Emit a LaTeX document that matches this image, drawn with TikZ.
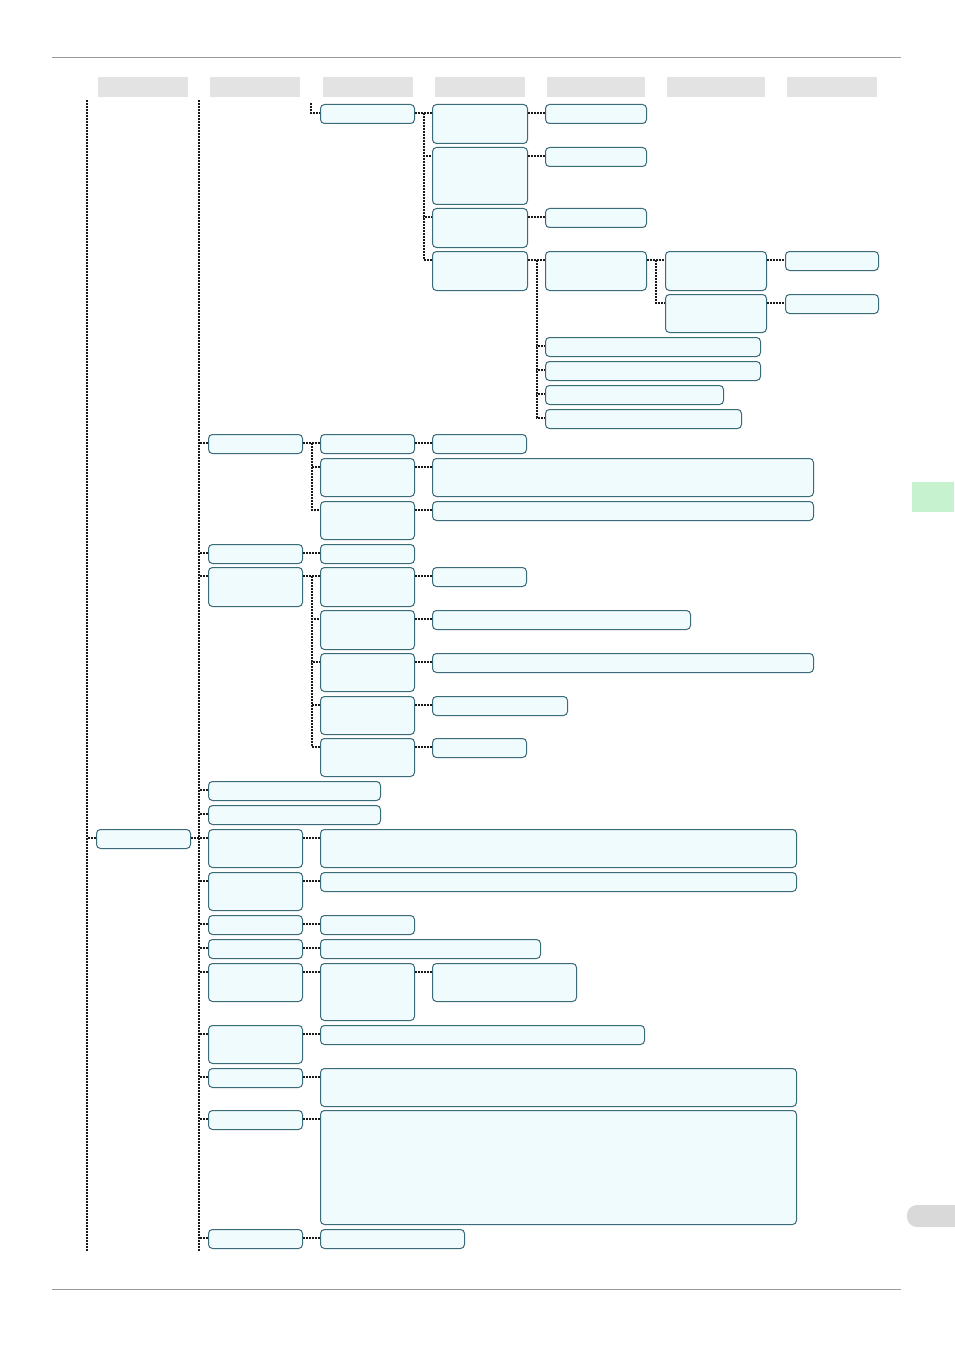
\documentclass[tikz,border=0pt]{standalone}
\usepackage{tikz}
\usetikzlibrary{positioning}
\definecolor{boxfill}{HTML}{F0FBFE}
\definecolor{boxline}{HTML}{3A6B78}
\definecolor{headgray}{HTML}{E3E3E3}
\definecolor{tabgreen}{HTML}{C6F2D0}
\definecolor{tabgray}{HTML}{D9D9D9}
\definecolor{rulegray}{HTML}{9A9A9A}

\begin{document}
\begin{tikzpicture}[
  x=1bp, y=-1bp,
  box/.style={draw=boxline, fill=boxfill, line width=1bp, rounded corners=4bp,
              anchor=north west, inner sep=0pt, minimum width=94bp, minimum height=19bp},
  tall/.style={minimum height=#1 bp},
  wide/.style={minimum width=#1 bp},
  head/.style={fill=headgray, anchor=north west, inner sep=0pt, minimum height=20bp},
  link/.style={draw=black!90, line width=2bp, dash pattern=on 2bp off 1bp}
]
\useasboundingbox (0,0) rectangle (954,1347);

% page rules and tabs
\draw[rulegray, line width=1bp] (52,57.5) -- (901,57.5);
\draw[rulegray, line width=1bp] (52,1289.5) -- (901,1289.5);
\fill[tabgreen] (912,482) rectangle (954,512);
\fill[tabgray, rounded corners=10bp] (907,1205) rectangle (975,1227);

% column heads
\foreach \x/\w in {98/90, 210/90, 323/90, 435/90, 547/98, 667/98, 787/90}
  \node[head, minimum width=\w bp] (hd\x) at (\x,77) {};

% upper branch
\node[box] (a1) at (320,104) {};
\node[box, wide=95, tall=39] (b1) at (432,104) {};
\node[box, wide=95, tall=57] (b2) at (432,147) {};
\node[box, wide=95, tall=39] (b3) at (432,208) {};
\node[box, wide=95, tall=39] (b4) at (432,251) {};
\node[box, wide=101] (c1) at (545,104) {};
\node[box, wide=101] (c2) at (545,147) {};
\node[box, wide=101] (c3) at (545,208) {};
\node[box, wide=101, tall=39] (c4) at (545,251) {};
\node[box, wide=215] (d1) at (545,337) {};
\node[box, wide=215] (d2) at (545,361) {};
\node[box, wide=178] (d3) at (545,385) {};
\node[box, wide=196] (d4) at (545,409) {};
\node[box, wide=101, tall=39] (e1) at (665,251) {};
\node[box, wide=101, tall=38] (e2) at (665,294) {};
\node[box, wide=93] (f1) at (785,251) {};
\node[box, wide=93] (f2) at (785,294) {};

\coordinate (a0) at (311,103);
\draw[link] (a0) |- ([yshift=-9bp]a1.north west);
\foreach \n in {b1,b2,b3,b4}
  \draw[link] ([yshift=-9bp]a1.north east) -- ++(9,0) |- ([yshift=-9bp]\n.north west);
\foreach \p/\n in {b1/c1, b2/c2, b3/c3}
  \draw[link] ([yshift=-9bp]\p.north east) -- ([yshift=-9bp]\n.north west);
\foreach \n in {c4,d1,d2,d3,d4}
  \draw[link] ([yshift=-9bp]b4.north east) -- ++(9,0) |- ([yshift=-9bp]\n.north west);
\foreach \n in {e1,e2}
  \draw[link] ([yshift=-9bp]c4.north east) -- ++(9,0) |- ([yshift=-9bp]\n.north west);
\draw[link] ([yshift=-9bp]e1.north east) -- ([yshift=-9bp]f1.north west);
\draw[link] ([yshift=-9bp]e2.north east) -- ([yshift=-9bp]f2.north west);

% middle branch
\node[box] (g1) at (208,434) {};
\node[box] (g2) at (208,544) {};
\node[box, tall=39] (g3) at (208,567) {};
\node[box, wide=172] (g4) at (208,781) {};
\node[box, wide=172] (g5) at (208,805) {};

\node[box] (h1) at (320,434) {};
\node[box, tall=38] (h2) at (320,458) {};
\node[box, tall=38] (h3) at (320,501) {};
\node[box] (h4) at (320,544) {};
\node[box, tall=39] (h5) at (320,567) {};
\node[box, tall=39] (h6) at (320,610) {};
\node[box, tall=38] (h7) at (320,653) {};
\node[box, tall=38] (h8) at (320,696) {};
\node[box, tall=38] (h9) at (320,738) {};

\node[box] (i1) at (432,434) {};
\node[box, wide=381, tall=38] (i2) at (432,458) {};
\node[box, wide=381] (i3) at (432,501) {};
\node[box] (i5) at (432,567) {};
\node[box, wide=258] (i6) at (432,610) {};
\node[box, wide=381] (i7) at (432,653) {};
\node[box, wide=135] (i8) at (432,696) {};
\node[box] (i9) at (432,738) {};

\foreach \n in {h1,h2,h3}
  \draw[link] ([yshift=-9bp]g1.north east) -- ++(9,0) |- ([yshift=-9bp]\n.north west);
\draw[link] ([yshift=-9bp]g2.north east) -- ([yshift=-9bp]h4.north west);
\foreach \n in {h5,h6,h7,h8,h9}
  \draw[link] ([yshift=-9bp]g3.north east) -- ++(9,0) |- ([yshift=-9bp]\n.north west);
\foreach \p/\n in {h1/i1, h2/i2, h3/i3, h5/i5, h6/i6, h7/i7, h8/i8, h9/i9}
  \draw[link] ([yshift=-9bp]\p.north east) -- ([yshift=-9bp]\n.north west);

% lower branch
\node[box] (r1) at (96,829) {};
\node[box, tall=38] (j1) at (208,829) {};
\node[box, tall=38] (j2) at (208,872) {};
\node[box] (j3) at (208,915) {};
\node[box] (j4) at (208,939) {};
\node[box, tall=38] (j5) at (208,963) {};
\node[box, tall=38] (j6) at (208,1025) {};
\node[box] (j7) at (208,1068) {};
\node[box] (j8) at (208,1110) {};
\node[box] (j9) at (208,1229) {};

\node[box, wide=476, tall=38] (k1) at (320,829) {};
\node[box, wide=476] (k2) at (320,872) {};
\node[box] (k3) at (320,915) {};
\node[box, wide=220] (k4) at (320,939) {};
\node[box, tall=57] (k5) at (320,963) {};
\node[box, wide=324] (k6) at (320,1025) {};
\node[box, wide=476, tall=38] (k7) at (320,1068) {};
\node[box, wide=476, tall=114] (k8) at (320,1110) {};
\node[box, wide=144] (k9) at (320,1229) {};
\node[box, wide=144, tall=38] (l5) at (432,963) {};

\draw[link] ([yshift=-9bp]r1.north east) -- ([yshift=-9bp]j1.north west);
\foreach \p/\n in {j1/k1, j2/k2, j3/k3, j4/k4, j5/k5, j6/k6, j7/k7, j8/k8, j9/k9, k5/l5}
  \draw[link] ([yshift=-9bp]\p.north east) -- ([yshift=-9bp]\n.north west);

% long trunks
\coordinate (lt) at (87,100);
\coordinate (lb) at (87,1251);
\coordinate (mt) at (199,100);
\coordinate (mb) at (199,1251);
\draw[link] (lt) -- (lb);
\draw[link] (mt) -- (mb);
\foreach \n in {r1,g1,g2,g3,g4,g5,j2,j3,j4,j5,j6,j7,j8,j9}
  \draw[link] ([yshift=-9bp]\n.north west) -- ++(-9,0);
\end{tikzpicture}
\end{document}
